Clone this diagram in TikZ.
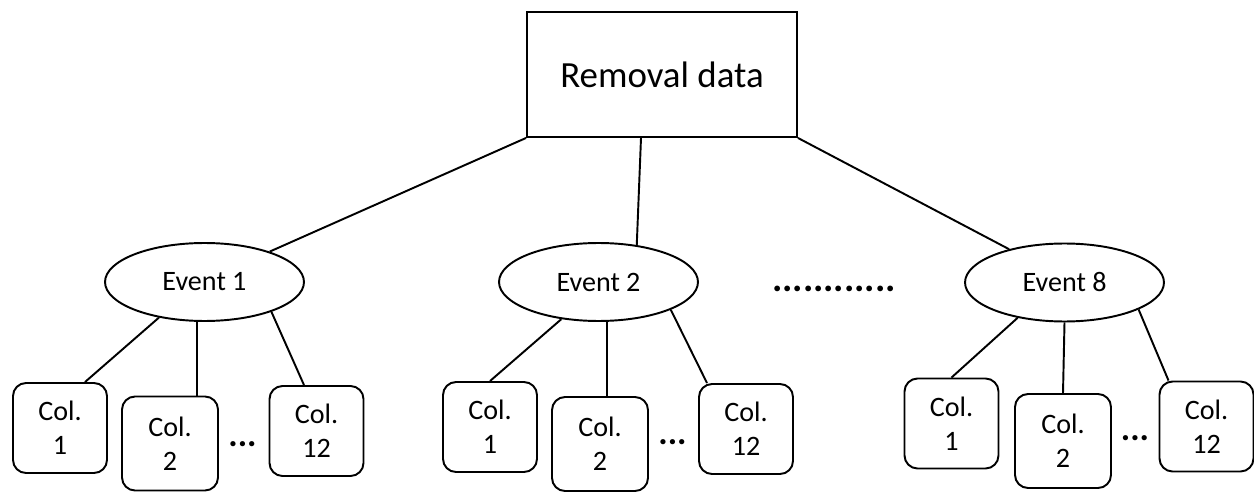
\documentclass[tikz,border=0pt]{standalone}
\usepackage{fontspec}
\setmainfont{Carlito}
\usetikzlibrary{shapes.geometric}

\begin{document}
\begin{tikzpicture}[x=0.02cm,y=-0.02cm,line width=1.1pt,
		databox/.style={draw,minimum width=5.4cm,minimum height=2.5cm,inner sep=0pt,font=\fontsize{21}{25}\selectfont},
		eventnode/.style={draw,ellipse,minimum width=3.98cm,minimum height=1.56cm,inner sep=0pt,font=\fontsize{16}{19}\selectfont},
		colbox/.style={draw,rounded corners=0.26cm,minimum width=1.88cm,minimum height=1.8cm,inner sep=0pt,align=center,font=\fontsize{16}{19.4}\selectfont},
		colboxtall/.style={colbox,minimum width=1.92cm,minimum height=1.88cm},
		gapdots/.style={inner sep=0pt,font=\fontsize{20}{24}\selectfont\bfseries}]
			%\draw [help lines,step=50] (0,0) grid (1254,493);
			\useasboundingbox (0,0) rectangle (1254,493);
			\node[databox] (data) at (662,74.5) {Removal data};
			
			\node[eventnode] (ev1) at (204.5,282) {Event 1};
			\node[eventnode] (ev2) at (598.5,282) {Event 2};
			\node[eventnode] (ev8) at (1064.5,282.5) {Event 8};
			\node[gapdots,font=\fontsize{22}{26}\selectfont\bfseries] (more) at (834,289) {............};
			
			\node[colbox] (c11) at (60,428) {Col.\\1};
			\node[colboxtall] (c12) at (170,443.5) {Col.\\2};
			\node[colbox] (c1n) at (316.5,431) {Col.\\12};
			\node[gapdots] (gap1) at (242.5,444) {...};
			
			\node[colbox] (c21) at (490,427) {Col.\\1};
			\node[colboxtall] (c22) at (600,444) {Col.\\2};
			\node[colbox] (c2n) at (746,429) {Col.\\12};
			\node[gapdots] (gap2) at (672.5,442) {...};
			
			\node[colbox] (c81) at (951.5,423.5) {Col.\\1};
			\node[colboxtall] (c82) at (1063,441) {Col.\\2};
			\node[colbox] (c8n) at (1206.5,426.5) {Col.\\12};
			\node[gapdots] (gap8) at (1135,438) {...};
			
			\draw (data.south west) -- (ev1.25);
			\draw ([xshift=-0.42cm]data.south) -- (ev2.44);
			\draw (data.south east) -- (ev8.149);
			
			\draw (ev1.218) -- ([xshift=0.5cm]c11.north);
			\draw (ev1.259) -- (ev1.259 |- c12.north);
			\draw (ev1.336) -- ([xshift=-0.25cm]c1n.north);
			
			\draw (ev2.225) -- (c21.north);
			\draw (ev2.282) -- (ev2.282 |- c22.north);
			\draw (ev2.339) -- ([xshift=-0.78cm]c2n.north);
			
			\draw (ev8.217) -- (c81.north);
			\draw (ev8.south) -- (c82.north);
			\draw (ev8.340) -- ([xshift=-0.76cm]c8n.north);
	\end{tikzpicture}
\end{document}
